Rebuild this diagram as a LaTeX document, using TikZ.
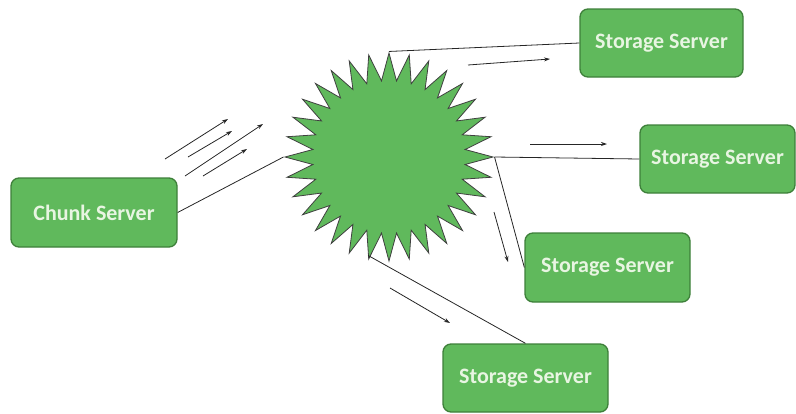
\documentclass[tikz,border=0pt]{standalone}
\usepackage{fontspec}
\setmainfont{Carlito}
\usetikzlibrary{shapes.geometric,arrows.meta}

\definecolor{boxfill}{RGB}{96,185,92}
\definecolor{boxedge}{RGB}{62,128,58}
\definecolor{boxtext}{RGB}{232,245,226}

\tikzset{
  server/.style={draw=boxedge, line width=1.3pt, fill=boxfill, rounded corners=8pt,
    text=boxtext, font=\bfseries\fontsize{22}{25}\selectfont, inner sep=0pt},
  burst/.style={star, star points=32, star point ratio=1.36, minimum size=208pt,
    inner sep=0pt, draw=black!75, line width=0.8pt, fill=boxfill},
  link/.style={draw=black!85, line width=0.8pt},
  flow/.style={draw=black!85, line width=0.8pt, -{Stealth[length=6pt,width=4pt]}},
}

\begin{document}
\begin{tikzpicture}[x=1pt, y=-1pt]
  \useasboundingbox (0,0) rectangle (796,413);

  % hub
  \node[burst] (hub) at (389,157) {};

  % servers
  \node[server, minimum width=166pt, minimum height=69pt] (chunk) at (94,212.5) {Chunk Server};
  \node[server, minimum width=163pt, minimum height=68pt] (s1) at (661.5,43) {Storage Server};
  \node[server, minimum width=155pt, minimum height=68pt] (s2) at (717.5,159) {Storage Server};
  \node[server, minimum width=165pt, minimum height=69pt] (s3) at (607.5,267.5) {Storage Server};
  \node[server, minimum width=165pt, minimum height=68pt] (s4) at (525.5,378) {Storage Server};

  % links
  \draw[link] (chunk.east) -- (hub.west);
  \draw[link] (hub.north) -- (s1.west);
  \draw[link] (hub.east) -- (s2.west);
  \draw[link] (hub.east) -- (s3.west);
  \draw[link] (hub.258.75) -- (s4.north);

  % data flow
  \draw[flow] (165,159) -- (228,119);
  \draw[flow] (188,157) -- (232,131);
  \draw[flow] (185,176) -- (263,124);
  \draw[flow] (203,176) -- (247,149);
  \draw[flow] (468,65) -- (550,59);
  \draw[flow] (530,144) -- (607,144);
  \draw[flow] (494,212) -- (508,262);
  \draw[flow] (390,288) -- (450,323);
\end{tikzpicture}
\end{document}
